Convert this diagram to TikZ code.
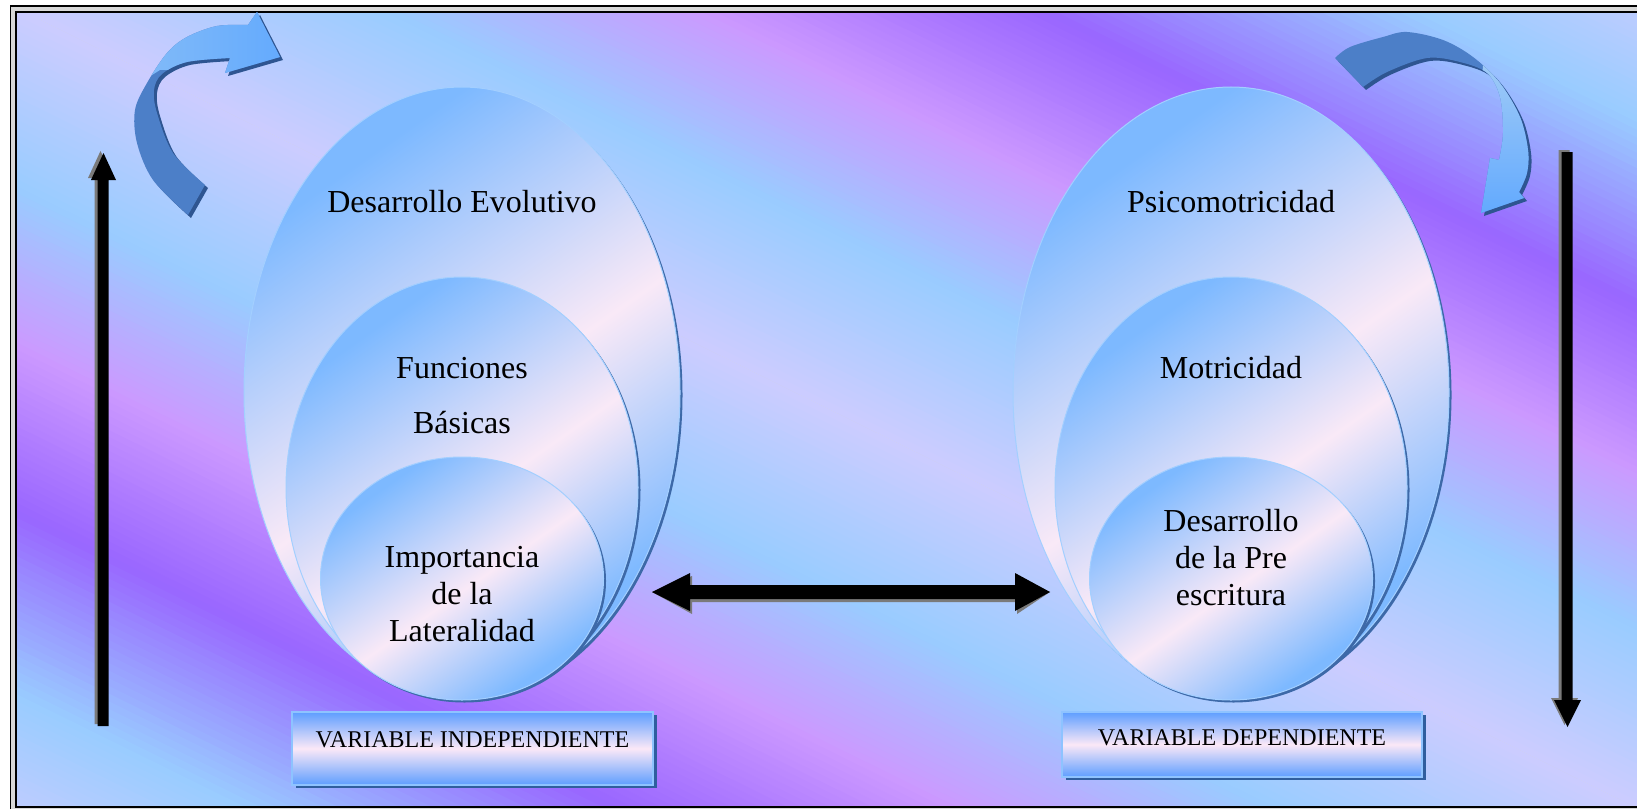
\documentclass[tikz,border=0pt]{standalone}
\usepackage{fontspec}
\setmainfont{Liberation Serif}
\usetikzlibrary{shadows}
\definecolor{lav}{HTML}{CCCCFF}
\definecolor{lbl}{HTML}{99CCFF}
\definecolor{pnk}{HTML}{CC99FF}
\definecolor{pur}{HTML}{9966FF}
\definecolor{eb}{HTML}{7DB9FF}
\definecolor{ep}{HTML}{F9E9F7}
\definecolor{esh}{HTML}{3D69A8}
\definecolor{erim}{HTML}{A3CFFF}
\definecolor{bxb}{HTML}{5E9EFF}
\definecolor{bxp}{HTML}{FBE8F7}
\definecolor{bxs}{HTML}{2F5E9E}
\definecolor{bxr}{HTML}{8EC3FF}
\definecolor{adark}{HTML}{4C7FC8}
\definecolor{ashad}{HTML}{2E5591}
\definecolor{alb}{HTML}{86BDF7}
\definecolor{atop}{HTML}{A8CFF5}
\definecolor{ahb}{HTML}{5CA6FF}
\definecolor{frg}{HTML}{D8D8D8}
\definecolor{kshadow}{HTML}{7A7A7A}
\pgfdeclarehorizontalshading{ellgrad}{100bp}{color(0bp)=(eb); color(27bp)=(eb); color(52bp)=(ep); color(73bp)=(eb); color(100bp)=(eb)}
\newcommand{\TLarrow}[1]{#1 plot[smooth, tension=0.55] coordinates {(188,215) (153,180) (137,143) (135,110) (147,83) (167,53) (187,37) (217,26) (248,25)} -- (257,12) -- (280,57) -- (225,73) -- (230,58) -- plot[smooth, tension=0.55] coordinates {(230,58) (187,62) (162,74) (154,90) (157,113) (173,153) (205,185)} -- cycle;}
\newcommand{\TRarrow}[1]{#1 plot[smooth, tension=0.55] coordinates {(1335,58) (1350,47) (1383,37) (1407,32) (1443,40) (1473,57) (1500,83) (1520,117) (1528,150) (1527,173) (1519,192)} -- (1524,198) -- (1481,213) -- (1490,158) -- (1499,160) -- plot[smooth, tension=0.55] coordinates {(1499,160) (1503,133) (1500,97) (1487,73) (1460,62) (1427,58) (1387,72) (1363,87)} -- cycle;}
\tikzset{
  etext/.style={font=\fontsize{16}{18.5}\selectfont, align=center, inner sep=0pt, text=black},
  varbox/.style={rectangle, top color=bxb, bottom color=bxb, middle color=bxp, draw=bxr, line width=0.6pt,
     font=\fontsize{12}{14}\selectfont, inner sep=0pt, text=black,
     drop shadow={shadow xshift=2pt, shadow yshift=-1.6pt, fill=bxs, opacity=1}},
  ellshadow/.style={fill=esh},
  ellfill/.style={shading=ellgrad, shading angle=-55},
  ellrim/.style={draw=erim, line width=0.5pt},
  blackarrow/.style={fill=black},
  greyshadow/.style={fill=kshadow}
}
\begin{document}
\begin{tikzpicture}[x=0.5pt, y=-0.5pt]
\useasboundingbox (0,0) rectangle (1637,808);
\clip (0,0) rectangle (1637,808);
\fill[white] (0,0) rectangle (1637,808);
\fill[frg] (10.5,6) rectangle (1700,900);
% background stripes parallel to the diagonal
\begin{scope}
\clip (16,13) rectangle (1637,805.5);
\foreach \ta/\cA/\tb/\cB in {0/lav/160/lbl, 160/lbl/300/pnk, 300/pnk/450/pur, 450/pur/615/lbl, 615/lbl/760/lav}{
  \foreach \i in {0,...,23}{
    \pgfmathsetmacro\lo{\ta+(\tb-\ta)*\i/24}
    \pgfmathsetmacro\hi{\ta+(\tb-\ta)*(\i+1)/24+0.8}
    \pgfmathsetmacro\mlo{-\lo}
    \pgfmathsetmacro\mhi{-\hi}
    \pgfmathtruncatemacro\pc{100*(\i+0.5)/24}
    \colorlet{stc}{\cB!\pc!\cA}
    \fill[stc] ({-89.67-0.4426*\lo},{-44.26+0.8967*\lo}) -- ({1793.4-0.4426*\lo},{885.2+0.8967*\lo}) -- ({1793.4-0.4426*\hi},{885.2+0.8967*\hi}) -- ({-89.67-0.4426*\hi},{-44.26+0.8967*\hi}) -- cycle;
    \fill[stc] ({-89.67-0.4426*\mlo},{-44.26+0.8967*\mlo}) -- ({1793.4-0.4426*\mlo},{885.2+0.8967*\mlo}) -- ({1793.4-0.4426*\mhi},{885.2+0.8967*\mhi}) -- ({-89.67-0.4426*\mhi},{-44.26+0.8967*\mhi}) -- cycle;
  }
}
\end{scope}
% frame
\draw[line width=0.8pt] (10.5,6) rectangle (1700,900);
\draw[line width=1pt] (15.5,12.5) rectangle (1700,806.5);
% top-left curved arrow
\begin{scope}[shift={(3,3)}]
  \TLarrow{\fill[ashad]}
\end{scope}
\begin{scope}
  \TLarrow{\clip}
  \fill[adark] (100,0) rectangle (320,240);
  \shade[left color=alb, middle color=ep, right color=ahb] (120,95) -- (160,70) -- (215,70) -- (215,90) -- (320,90) -- (320,0) -- (120,0) -- cycle;
\end{scope}
% top-right curved arrow
\begin{scope}[shift={(3,3)}]
  \TRarrow{\fill[ashad]}
\end{scope}
\begin{scope}
  \TRarrow{\clip}
  \fill[adark] (1300,0) rectangle (1600,240);
  \shade[top color=atop, middle color=ep, bottom color=ahb] (1485,40) -- (1600,40) -- (1600,230) -- (1470,230) -- cycle;
\end{scope}
% nested ellipses
\foreach \cx in {462,1231}{
  \fill[ellshadow] (\cx+2.5,392.5+2.5) ellipse [x radius=218, y radius=305.5];
  \shade[ellfill] (\cx,392.5) ellipse [x radius=218, y radius=305.5];
  \draw[ellrim] (\cx,392.5) ellipse [x radius=218, y radius=305.5];
  \fill[ellshadow] (\cx+2.5,487.5+2.5) ellipse [x radius=176, y radius=210.5];
  \shade[ellfill] (\cx,487.5) ellipse [x radius=176, y radius=210.5];
  \draw[ellrim] (\cx,487.5) ellipse [x radius=176, y radius=210.5];
  \fill[ellshadow] (\cx+2.5,578.5+2.5) ellipse [x radius=141.5, y radius=121.5];
  \shade[ellfill] (\cx,578.5) ellipse [x radius=141.5, y radius=121.5];
  \draw[ellrim] (\cx,578.5) ellipse [x radius=141.5, y radius=121.5];
}
% texts
\node[etext] (de) at (462,202) {Desarrollo Evolutivo};
\node[etext] (fu) at (462,368) {Funciones};
\node[etext] (ba) at (462,423) {Básicas};
\node[etext] (il) at (462,594) {Importancia\\de la\\Lateralidad};
\node[etext] (ps) at (1231,202) {Psicomotricidad};
\node[etext] (mo) at (1231,368) {Motricidad};
\node[etext] (dp) at (1231,558) {Desarrollo\\de la Pre\\escritura};
% black vertical arrows
\begin{scope}[shift={(-3,-2)}]
  \fill[greyshadow] (97.5,726) -- (97.5,180) -- (91,180) -- (103.5,153) -- (116,180) -- (108.5,180) -- (108.5,726) -- cycle;
  \fill[greyshadow] (1561.5,152) -- (1561.5,700) -- (1554,700) -- (1567.5,727) -- (1581,700) -- (1572.5,700) -- (1572.5,152) -- cycle;
\end{scope}
\fill[blackarrow] (97.5,726) -- (97.5,180) -- (91,180) -- (103.5,153) -- (116,180) -- (108.5,180) -- (108.5,726) -- cycle;
\fill[blackarrow] (1561.5,152) -- (1561.5,700) -- (1554,700) -- (1567.5,727) -- (1581,700) -- (1572.5,700) -- (1572.5,152) -- cycle;
% double arrow between the two groups
\coordinate (dl) at (652,592);
\coordinate (dr) at (1050,592);
\begin{scope}[shift={(2,3)}]
  \fill[greyshadow] (dl) -- (690,573) -- (690,585) -- (1015,585) -- (1015,573) -- (dr) -- (1015,611) -- (1015,599) -- (690,599) -- (690,611) -- cycle;
\end{scope}
\fill[blackarrow] (dl) -- (690,573) -- (690,585) -- (1015,585) -- (1015,573) -- (dr) -- (1015,611) -- (1015,599) -- (690,599) -- (690,611) -- cycle;
% variable boxes
\node[varbox, minimum width=180.5pt, minimum height=36.5pt, text height=8pt, text depth=9.5pt] (vi) at (472.5,748.5) {VARIABLE INDEPENDIENTE};
\node[varbox, minimum width=180pt, minimum height=32.5pt, text height=8pt, text depth=7.5pt] (vd) at (1242,744.5) {VARIABLE DEPENDIENTE};
\end{tikzpicture}
\end{document}
